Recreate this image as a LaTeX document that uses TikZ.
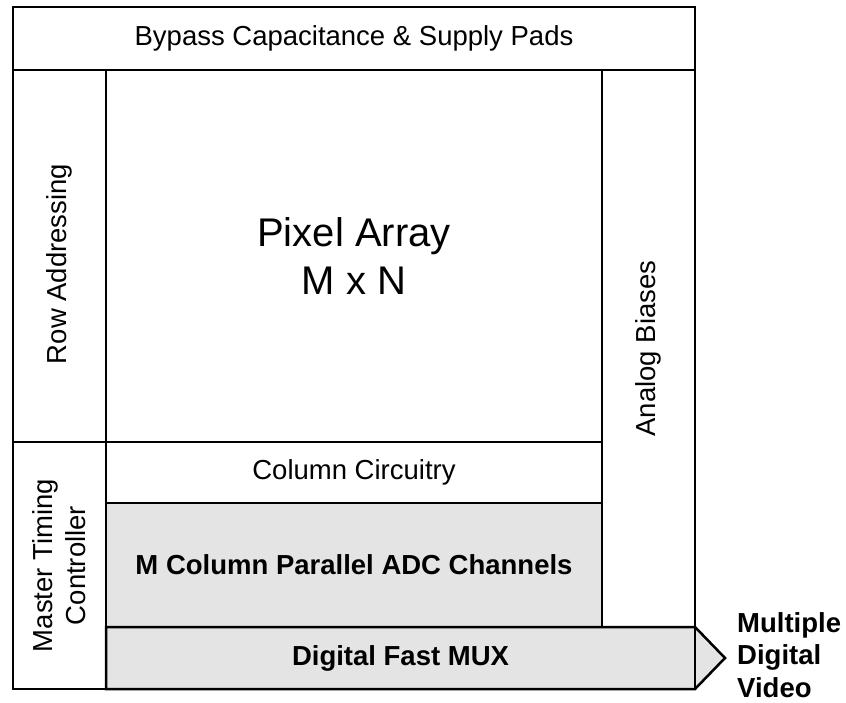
\documentclass[tikz,border=0pt]{standalone}
\usepackage{fontspec}
\setmainfont{Liberation Sans}
\definecolor{boxgray}{RGB}{228,228,228}
\tikzset{
  blk/.style={draw=black, line width=2.5pt, rectangle, inner sep=0pt, align=center,
    font=\fontsize{27.5}{33}\selectfont},
  plain/.style={font=\fontsize{27.5}{33}\selectfont, align=center, inner sep=0pt},
  bigtxt/.style={font=\fontsize{40}{48}\selectfont, align=center},
  boldtxt/.style={font=\fontsize{27.5}{33}\selectfont\bfseries, align=center},
  sidetxt/.style={font=\fontsize{27.5}{32.5}\selectfont\bfseries, align=left, inner sep=0pt},
  edge/.style={line width=2.5pt, line join=miter}
}
\begin{document}
\begin{tikzpicture}[x=1pt, y=-1pt]
\useasboundingbox (0,0) rectangle (846,702);
% regions
\node[blk, minimum width=682pt, minimum height=63pt] (top) at (354,38.5) {Bypass Capacitance \& Supply Pads};
\node[blk, minimum width=93pt, minimum height=372pt] (row) at (59.5,256) {};
\node[plain, rotate=90] (rowtxt) at (59.5,264) {Row Addressing};
\node[blk, minimum width=247pt, minimum height=93pt, rotate=90] (master) at (59.5,565.5) {Master Timing\\Controller};
\node[blk, minimum width=496pt, minimum height=372pt] (pixel) at (354,256) {};
\node[bigtxt] (pixeltxt) at (pixel.center) {Pixel Array\\M x N};
\node[blk, minimum width=496pt, minimum height=61pt] (col) at (354,472.5) {Column Circuitry};
\node[blk, fill=boxgray, minimum width=496pt, minimum height=124pt, font=\fontsize{27.5}{33}\selectfont\bfseries] (adc) at (354,565) {M Column Parallel ADC Channels};
\node[blk, minimum width=557pt, minimum height=93pt, rotate=90] (bias) at (648.5,348.5) {Analog Biases};
% MUX with output arrow
\coordinate (muxA) at (106,627);
\coordinate (muxB) at (695,627);
\coordinate (muxTip) at (725,658);
\coordinate (muxC) at (695,689);
\coordinate (muxD) at (106,689);
\filldraw[edge, fill=boxgray] (muxA) -- (muxB) -- (muxTip) -- (muxC) -- (muxD) -- cycle;
\draw[edge] (muxB) -- (muxC);
\node[boldtxt] (mux) at (400.5,658) {Digital Fast MUX};
% outer frame
\draw[edge] (13,7) rectangle (695,689);
\node[sidetxt, anchor=west] (video) at (737,655) {Multiple\\Digital\\Video};
\end{tikzpicture}
\end{document}
